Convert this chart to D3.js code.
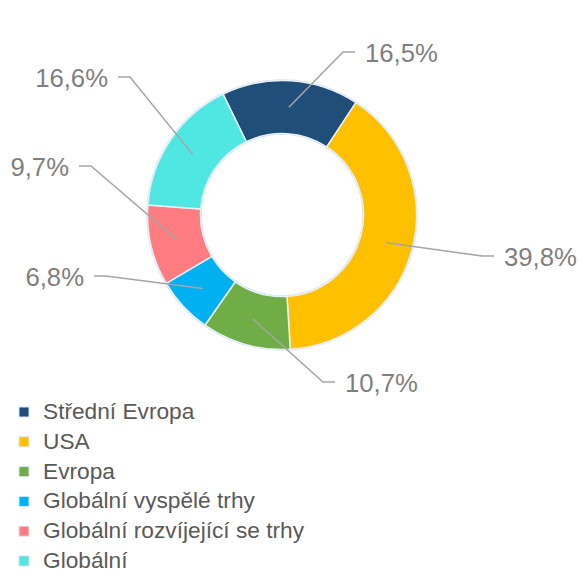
<!DOCTYPE html>
<html>
<head>
<meta charset="utf-8">
<script src="https://cdn.jsdelivr.net/npm/d3@7"></script>
<style>
  html, body { margin: 0; padding: 0; background: #ffffff; }
  svg { display: block; font-family: "Liberation Sans", Arial, sans-serif; }
</style>
</head>
<body>
<svg id="chart" width="578" height="570"></svg>
<script>
// ---- data ----
const categories = ["Střední Evropa", "USA", "Evropa", "Globální vyspělé trhy", "Globální rozvíjející se trhy", "Globální"];
const values = [16.5, 39.8, 10.7, 6.8, 9.7, 16.6];
const valueLabels = ["16,5%", "39,8%", "10,7%", "6,8%", "9,7%", "16,6%"];
const colors = ["#1f4e79", "#ffc000", "#70ad47", "#00b0f0", "#ff7c80", "#50e6e1"];

// ---- layout (label elbow offsets relative to centre) ----
const labelElbows = [[61, -163], [200, 41], [41, 167], [-176, 61], [-191, -49], [-152, -138]];

const W = 578, H = 570;
const cx = 282, cy = 215, rOuter = 134.5, rInner = 81.5;
const svg = d3.select("#chart");

const pie = d3.pie().sort(null).value(d => d)
  .startAngle(-26 * Math.PI / 180)
  .endAngle(334 * Math.PI / 180);
const arcs = pie(values);
const arc = d3.arc().innerRadius(rInner).outerRadius(rOuter);
const midArc = d3.arc().innerRadius((rInner + rOuter) / 2).outerRadius((rInner + rOuter) / 2);

const g = svg.append("g").attr("transform", `translate(${cx},${cy})`);

// faint outline halo
g.append("circle").attr("r", rOuter + 0.5).attr("fill", "none").attr("stroke", "#cfe0f0").attr("stroke-width", 1.5);
g.append("circle").attr("r", rInner - 0.5).attr("fill", "none").attr("stroke", "#cfe0f0").attr("stroke-width", 1.5);

g.selectAll("path.slice").data(arcs).enter().append("path")
  .attr("class", "slice")
  .attr("d", arc)
  .attr("fill", (d, i) => colors[i])
  .attr("stroke", "#e8f0f8")
  .attr("stroke-width", 1.5)
  .attr("stroke-linejoin", "round");

// leader lines and labels
const labelG = g.append("g");
arcs.forEach((d, i) => {
  const c = midArc.centroid(d);
  const [ex, ey] = labelElbows[i];
  const right = ex > 0;
  const hx = ex + (right ? 12 : -12);
  labelG.append("polyline")
    .attr("points", [[c[0], c[1]], [ex, ey], [hx, ey]].map(p => p.join(",")).join(" "))
    .attr("fill", "none")
    .attr("stroke", "#a5a5a5")
    .attr("stroke-width", 1.5);
  labelG.append("text")
    .attr("x", hx + (right ? 10 : -10))
    .attr("y", ey)
    .attr("dy", "0.4em")
    .attr("text-anchor", right ? "start" : "end")
    .attr("fill", "#7f7f7f")
    .attr("font-size", 25.7)
    .text(valueLabels[i]);
});

// legend
const legend = svg.append("g").attr("transform", "translate(19,419)");
const rowH = 29.8;
const items = legend.selectAll("g").data(categories).enter().append("g")
  .attr("transform", (d, i) => `translate(0,${i * rowH})`);
items.append("rect")
  .attr("x", 0).attr("y", -12)
  .attr("width", 10).attr("height", 10)
  .attr("fill", (d, i) => colors[i])
  .attr("stroke", "#d6e4f2").attr("stroke-width", 1);
items.append("text")
  .attr("x", 24).attr("y", 0)
  .attr("fill", "#595959")
  .attr("font-size", 22.7)
  .text(d => d);
</script>
</body>
</html>
